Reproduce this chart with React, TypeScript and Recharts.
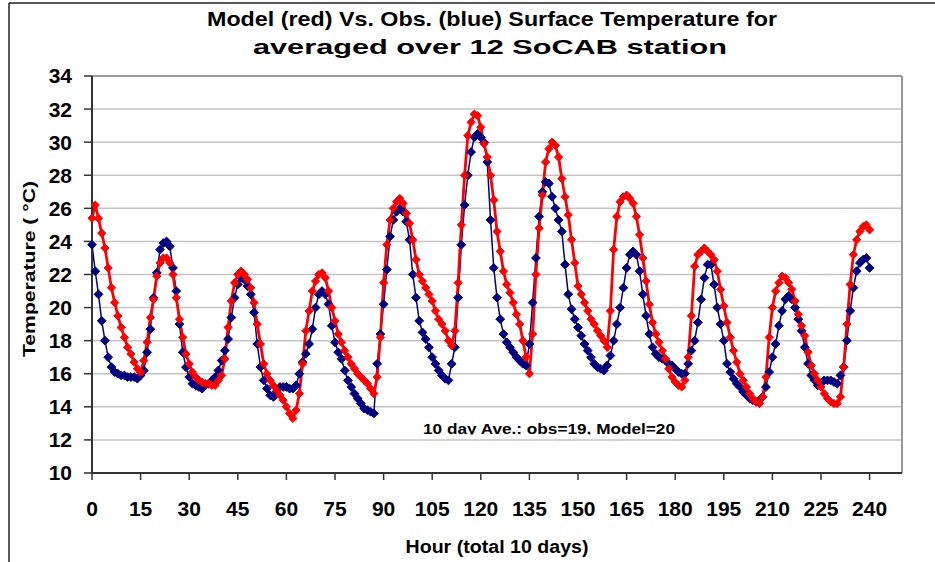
import React from "react";
import {
  LineChart,
  Line,
  XAxis,
  YAxis,
  CartesianGrid,
  ReferenceLine,
} from "recharts";

// hourly averages, hour 0..240 (one row per day)
const obsTemp = [
  23.8, 22.2, 20.8, 19.2, 18.0, 17.0, 16.4, 16.1, 16.0, 15.9, 15.9, 15.8, 15.8, 15.8, 15.7, 15.9, 16.2, 17.3, 18.7, 20.6, 22.1, 23.5, 23.9, 24.0,
  23.7, 22.4, 21.0, 19.0, 17.3, 16.4, 15.8, 15.4, 15.3, 15.2, 15.1, 15.3, 15.4, 15.6, 15.8, 16.2, 16.8, 17.4, 18.1, 19.4, 20.6, 21.4, 21.8, 21.7,
  21.3, 20.8, 19.7, 17.8, 16.4, 15.6, 15.1, 14.7, 14.6, 14.9, 15.2, 15.2, 15.2, 15.1, 15.1, 15.3, 16.0, 16.7, 17.2, 17.8, 18.7, 20.0, 20.8, 21.0,
  20.8, 20.2, 18.9, 17.9, 17.3, 16.9, 16.2, 15.6, 15.2, 14.8, 14.5, 14.2, 13.9, 13.8, 13.7, 13.6, 16.6, 18.4, 20.2, 22.3, 24.3, 25.3, 25.8, 26.0,
  25.8, 25.2, 24.1, 22.0, 20.6, 19.2, 18.5, 18.1, 17.6, 17.0, 16.6, 16.2, 15.9, 15.7, 15.6, 16.6, 17.6, 20.6, 23.8, 26.2, 28.0, 29.4, 30.3, 30.5,
  30.3, 30.0, 28.8, 25.3, 22.4, 20.6, 19.3, 18.4, 17.9, 17.6, 17.3, 17.0, 16.8, 16.6, 16.5, 17.8, 20.3, 23.0, 25.5, 27.0, 27.6, 27.5, 26.7, 26.0,
  25.3, 24.6, 22.6, 20.8, 19.9, 19.3, 18.8, 18.3, 17.8, 17.4, 17.0, 16.6, 16.4, 16.3, 16.2, 16.5, 17.1, 18.0, 19.0, 20.0, 21.2, 22.4, 23.2, 23.4,
  23.2, 22.2, 20.8, 19.5, 18.4, 17.6, 17.2, 17.0, 16.9, 16.8, 16.6, 16.5, 16.3, 16.1, 16.0, 16.0, 16.6, 17.4, 18.0, 19.1, 20.5, 21.8, 22.6, 22.6,
  21.4, 20.0, 19.0, 18.0, 16.6, 16.1, 15.7, 15.4, 15.2, 14.9, 14.7, 14.5, 14.4, 14.3, 14.4, 14.6, 15.2, 16.1, 17.0, 17.8, 18.9, 19.8, 20.5, 20.7,
  20.5, 20.0, 19.3, 18.6, 17.6, 16.6, 15.9, 15.6, 15.3, 15.4, 15.6, 15.6, 15.6, 15.5, 15.4, 15.9, 16.4, 18.0, 19.8, 21.2, 22.2, 22.7, 22.9, 23.0,
  22.4,
];

const modelTemp = [
  25.4, 26.2, 25.4, 24.5, 23.6, 22.4, 21.2, 20.3, 19.5, 18.8, 18.2, 17.6, 17.2, 16.7, 16.3, 16.1, 16.8, 17.9, 19.4, 20.5, 21.9, 22.7, 23.0, 23.0,
  22.7, 22.0, 20.6, 19.3, 18.2, 17.2, 16.6, 16.1, 15.8, 15.6, 15.5, 15.4, 15.4, 15.3, 15.3, 15.6, 15.9, 16.9, 18.8, 20.4, 21.5, 22.0, 22.2, 22.0,
  21.7, 21.2, 20.3, 19.0, 17.8, 16.6, 16.0, 15.6, 15.3, 15.0, 14.7, 14.4, 14.0, 13.6, 13.3, 13.8, 14.8, 16.6, 18.6, 19.8, 21.0, 21.6, 22.0, 22.1,
  21.8, 21.0, 20.0, 19.2, 18.4, 17.9, 17.4, 17.0, 16.6, 16.3, 16.0, 15.8, 15.6, 15.4, 15.1, 14.8, 15.8, 18.2, 21.5, 23.8, 25.3, 26.0, 26.4, 26.6,
  26.3, 25.7, 25.1, 24.1, 22.9, 22.0, 21.6, 21.2, 20.8, 20.4, 19.8, 19.3, 19.0, 18.6, 18.0, 17.7, 18.6, 21.5, 25.0, 28.0, 30.4, 31.2, 31.7, 31.6,
  30.9, 29.9, 29.1, 28.0, 26.5, 24.6, 23.4, 22.2, 21.4, 20.9, 20.3, 19.6, 19.0, 18.0, 17.0, 16.0, 18.4, 22.0, 24.8, 26.8, 28.8, 29.6, 30.0, 29.8,
  29.1, 27.8, 26.7, 25.6, 24.1, 22.7, 21.3, 20.8, 20.3, 19.8, 19.3, 19.0, 18.6, 18.3, 18.0, 17.6, 19.8, 23.5, 25.5, 26.4, 26.7, 26.8, 26.6, 26.3,
  25.5, 24.4, 23.0, 21.6, 20.2, 19.1, 18.4, 17.9, 17.4, 16.9, 16.3, 15.8, 15.5, 15.3, 15.2, 15.6, 17.0, 19.5, 22.5, 23.2, 23.4, 23.6, 23.4, 23.2,
  22.9, 22.2, 21.1, 20.1, 19.1, 18.2, 17.4, 16.7, 16.0, 15.6, 15.2, 14.8, 14.5, 14.3, 14.2, 14.6, 15.8, 18.2, 20.0, 21.0, 21.5, 21.9, 21.8, 21.5,
  21.1, 20.4, 19.6, 18.9, 18.3, 17.3, 16.5, 16.0, 15.6, 15.2, 14.8, 14.5, 14.3, 14.2, 14.2, 14.6, 16.4, 19.0, 21.4, 23.2, 24.1, 24.6, 24.9, 25.0,
  24.7,
];

const xTicks = [0, 15, 30, 45, 60, 75, 90, 105, 120, 135, 150, 165, 180, 195, 210, 225, 240];
const yTicks = [10, 12, 14, 16, 18, 20, 22, 24, 26, 28, 30, 32, 34];

const FONT = "'Liberation Sans', Arial, sans-serif";

const data = obsTemp.map((obs, i) => ({
  hour: i,
  obs,
  model: modelTemp[i],
}));

// diamond marker like the Excel one
const diamond = (color: string, r: number) => (props: any) => {
  const { cx, cy, index } = props;
  if (cx == null || cy == null) return <g key={`e-${color}-${index}`} />;
  return (
    <path
      key={`d-${color}-${index}`}
      d={`M${cx},${cy - r}L${cx + r},${cy}L${cx},${cy + r}L${cx - r},${cy}Z`}
      fill={color}
      stroke={color}
      strokeWidth={1}
    />
  );
};

const tickStyle = { fill: "#000", fontSize: 21, fontWeight: 700, fontFamily: FONT };

export default function App() {
  return (
    <div
      style={{
        position: "absolute",
        left: 0,
        top: 0,
        width: 935,
        height: 562,
        background: "#fff",
        fontFamily: FONT,
      }}
    >
      <LineChart
        width={935}
        height={562}
        data={data}
        margin={{ top: 76, right: 33, bottom: 29, left: 0 }}
      >
        <CartesianGrid
          horizontal={true}
          vertical={false}
          stroke="#c4c4c4"
          strokeWidth={1.5}
        />
        <XAxis
          dataKey="hour"
          type="number"
          domain={[0, 250]}
          ticks={xTicks}
          interval={0}
          height={60}
          tickSize={7}
          tickMargin={21}
          axisLine={{ stroke: "#333", strokeWidth: 2 }}
          tickLine={{ stroke: "#333", strokeWidth: 1.5 }}
          tick={tickStyle}
        />
        <YAxis
          type="number"
          domain={[10, 34]}
          ticks={yTicks}
          interval={0}
          width={92}
          tickSize={8}
          tickMargin={12}
          axisLine={{ stroke: "#333", strokeWidth: 2 }}
          tickLine={{ stroke: "#333", strokeWidth: 1.5 }}
          tick={tickStyle}
        />
        {/* plot area border, top and right */}
        <ReferenceLine y={34} stroke="#999" strokeWidth={2} />
        <ReferenceLine x={250} stroke="#999" strokeWidth={2} />

        <Line
          type="linear"
          dataKey="obs"
          stroke="#000080"
          strokeWidth={1.5}
          dot={diamond("#000080", 4.4)}
          activeDot={false}
          isAnimationActive={false}
        />
        <Line
          type="linear"
          dataKey="model"
          stroke="#ff0000"
          strokeWidth={2.8}
          dot={diamond("#ff0000", 4.1)}
          activeDot={false}
          isAnimationActive={false}
        />
      </LineChart>

      {/* titles, axis labels, note */}
      <svg
        width={935}
        height={562}
        style={{ position: "absolute", left: 0, top: 0, pointerEvents: "none" }}
      >
        <defs>
          <clipPath id="noteClip">
            <rect x={400} y={410} width={320} height={24.5} />
          </clipPath>
        </defs>
        <line x1={9} y1={3} x2={935} y2={3} stroke="#222" strokeWidth={1.5} />
        <line x1={9} y1={3} x2={9} y2={562} stroke="#222" strokeWidth={1.5} />

        <text
          x={492}
          y={26}
          textAnchor="middle"
          fontFamily={FONT}
          fontWeight={700}
          fontSize={21}
          textLength={570}
          lengthAdjust="spacingAndGlyphs"
        >
          Model (red) Vs. Obs. (blue) Surface Temperature for
        </text>
        <text
          x={490}
          y={54}
          textAnchor="middle"
          fontFamily={FONT}
          fontWeight={700}
          fontSize={21}
          textLength={474}
          lengthAdjust="spacingAndGlyphs"
        >
          averaged over 12 SoCAB station
        </text>

        <text
          transform="translate(35,269) rotate(-90)"
          textAnchor="middle"
          fontFamily={FONT}
          fontWeight={700}
          fontSize={17}
          textLength={176}
          lengthAdjust="spacingAndGlyphs"
        >
          Temperature ( °C)
        </text>

        <text
          x={497}
          y={553}
          textAnchor="middle"
          fontFamily={FONT}
          fontWeight={700}
          fontSize={18}
          textLength={183}
          lengthAdjust="spacingAndGlyphs"
        >
          Hour (total 10 days)
        </text>

        <text
          x={549}
          y={434}
          textAnchor="middle"
          fontFamily={FONT}
          fontWeight={700}
          fontSize={14}
          textLength={252}
          lengthAdjust="spacingAndGlyphs"
          clipPath="url(#noteClip)"
        >
          10 day Ave.: obs=19, Model=20
        </text>
      </svg>
    </div>
  );
}
